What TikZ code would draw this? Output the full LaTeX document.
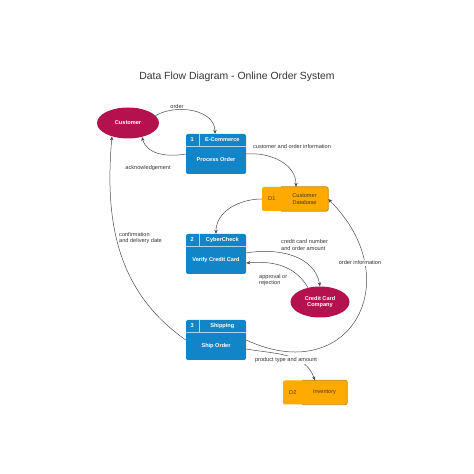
\documentclass[tikz,border=0pt]{standalone}
\usepackage{fontspec}
\setmainfont{Liberation Sans}
\usetikzlibrary{shapes.geometric,arrows.meta,calc}
\definecolor{procblue}{HTML}{1185C8}
\definecolor{extred}{HTML}{B3124E}
\definecolor{storeorange}{HTML}{FFAA00}
\definecolor{storeedge}{HTML}{C68400}
\definecolor{storetext}{HTML}{4D3B00}
\definecolor{txtgray}{HTML}{333333}
\begin{document}
\begin{tikzpicture}[x=1pt,y=1pt,>={Stealth[length=4pt,width=3.4pt]},
        font=\fontsize{5.6}{6.6}\selectfont,
        proc/.style={fill=procblue,rounded corners=2pt,minimum width=60pt,minimum height=40pt,inner sep=0pt},
        ptext/.style={text=white,font=\fontsize{5.6}{6.6}\selectfont\bfseries,inner sep=0pt},
        ext/.style={ellipse,fill=extred,text=white,font=\fontsize{5.6}{6.6}\selectfont\bfseries,inner sep=0pt,align=center},
        store/.style={fill=storeorange,rounded corners=2pt,minimum height=24pt,inner sep=0pt},
        stext/.style={text=storetext,inner sep=0pt,align=center},
        flow/.style={->,draw=black!70,line width=0.5pt},
        lbl/.style={text=txtgray,inner sep=1pt,align=left}]
    \useasboundingbox (0,0) rectangle (474,474);
    % process box: name, centre, number, header, body
    \def\procbox#1(#2)#3#4#5{%
        \node[proc] (#1) at (#2) {};
        \draw[white!65!procblue] ([yshift=-12pt]#1.north west) -- ([yshift=-12pt]#1.north east);
        \draw[white!65!procblue] ([xshift=13pt]#1.north west) -- ([xshift=13pt,yshift=-12pt]#1.north west);
        \node[ptext] (#1n) at ([xshift=6.5pt,yshift=-6pt]#1.north west) {#3};
        \node[ptext] (#1h) at ([xshift=36.5pt,yshift=-6pt]#1.north west) {#4};
        \node[ptext] (#1b) at ([yshift=-6pt]#1.center) {#5};
    }
    % data store: name, centre, width, id, text
    \def\datastore#1(#2)#3#4#5{%
        \node[store,minimum width=#3] (#1) at (#2) {};
        \draw[storeedge,line width=0.8pt,rounded corners=2pt] ([xshift=19pt]#1.north west) -- (#1.north east)
            -- (#1.south east) -- ([xshift=19pt]#1.south west);
        \node[stext] (#1id) at ([xshift=10pt]#1.west) {#4};
        \node[stext] (#1t) at ($([xshift=19pt]#1.west)!0.5!(#1.east)$) {#5};
    }
    %===========================================
    \node[font=\fontsize{10.4}{12}\selectfont,text=txtgray] (title) at (237,397) {Data Flow Diagram - Online Order System};
    \node[ext,minimum width=62pt,minimum height=31pt] (cust) at (128,351) {Customer};
    \procbox{p1}(216,320){1}{E-Commerce}{Process Order}
    \datastore{d1}(295,275){66pt}{D1}{Customer\\Database}
    \procbox{p2}(216,220){2}{CyberCheck}{Verify Credit Card}
    \node[ext,minimum width=59pt,minimum height=31pt] (ccc) at (320,172) {Credit Card\\Company};
    \procbox{p3}(216,134){3}{Shipping}{Ship Order}
    \datastore{d2}(315,81.5){64pt}{D2}{Inventory}
    %===========================================
    \draw[flow] (cust.15) to[out=30,in=90] ([xshift=-1pt]p1.north);
    \draw[flow] (p1.west) to[out=190,in=-75] (cust.-45);
    \draw[flow] (p1.east) to[out=5,in=90] ([xshift=1pt]d1.north);
    \draw[flow] (d1.west) to[out=180,in=90] (p2.north);
    \draw[flow] ([yshift=1pt]p2.east) to[out=10,in=100] (ccc.north);
    \draw[flow] (ccc.130) to[out=120,in=5] ([yshift=-9pt]p2.east);
    \draw[flow] (p3.east) to[out=-25,in=-45,looseness=1.8] (d1.east);
    \draw[flow] ([yshift=-9pt]p3.east) to[out=-10,in=110] (d2.north);
    \draw[flow] (p3.west) to[out=145,in=-95] (cust.-140);
    %===========================================
    \node[lbl] (lord) at (177,367) {order};
    \node[lbl] (lack) at (148,306) {acknowledgement};
    \node[lbl] (lcoi) at (292,327) {customer and order information};
    \node[lbl,anchor=west] (lccn) at (280,229) {credit card number\\and order amount};
    \node[lbl,anchor=west] (lapp) at (258,194) {approval or\\rejection};
    \node[lbl,fill=white] (loi) at (360,211) {order information};
    \node[lbl,anchor=west] (lconf) at (118,236) {confirmation\\and delivery date};
    \node[lbl,fill=white] (lprod) at (286,114) {product type and amount};
\end{tikzpicture}
\end{document}
